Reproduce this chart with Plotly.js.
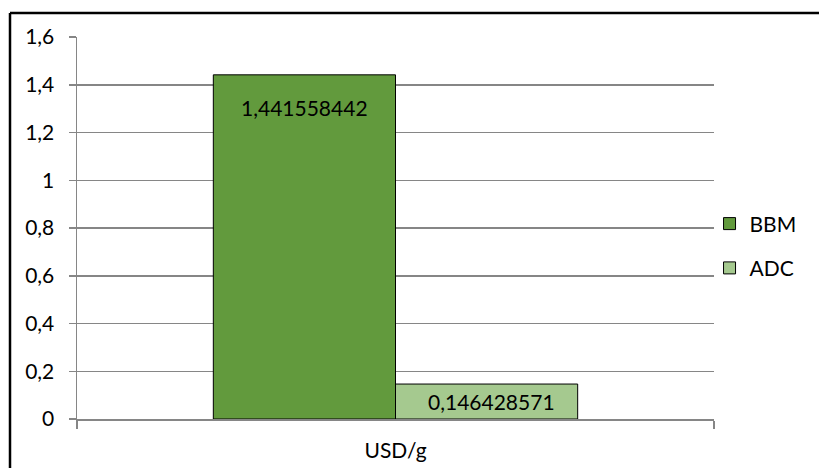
<!DOCTYPE html>
<html>
<head>
<meta charset="utf-8">
<script src="https://cdn.plot.ly/plotly-3.0.1.min.js"></script>
<style>
  html, body { margin: 0; padding: 0; background: #fff; overflow: hidden; }
  #chart { width: 819px; height: 468px; }
</style>
</head>
<body>
<div id="chart"></div>
<script>
const categories = ["USD/g"];
const seriesNames = ["BBM", "ADC"];
const bbmValues = [1.441558442];
const adcValues = [0.146428571];
const labelBBM = ["1,441558442"];
const labelADC = ["0,146428571"];

const FONT = "Lato, 'Noto Sans', sans-serif";
const W = 819, H = 468;
const margin = { l: 77, r: 105, t: 37, b: 49 };
const bargap = 0.428;
const yMax = 1.6;
const plotW = W - margin.l - margin.r;
const plotH = H - margin.t - margin.b;
const barPx = plotW * (1 - bargap) / 2;

const traces = [
  { type: "bar", name: seriesNames[0], x: categories, y: bbmValues, legendgroup: "a",
    marker: { color: "#629A3D", line: { color: "#000", width: 1 } }, hoverinfo: "none" },
  { type: "bar", name: seriesNames[1], x: categories, y: adcValues, legendgroup: "b",
    marker: { color: "#A5C98F", line: { color: "#000", width: 1 } }, hoverinfo: "none" }
];

function labelAnn(val, txt, sign, dx) {
  const hPx = val / yMax * plotH;
  return {
    xref: "x", yref: "y", x: categories[0], y: val,
    xshift: sign * barPx / 2 + dx,
    yshift: -Math.min(33, hPx / 2),
    text: txt, showarrow: false, yanchor: "middle",
    font: { family: FONT, size: 21, color: "#000" }
  };
}

// outer frame: only the top and left edges are in the picture
const fx0 = (10 - margin.l) / plotW;
const fy1 = (H - margin.b - 13) / plotH;

const layout = {
  width: W, height: H,
  margin: margin,
  paper_bgcolor: "#fff", plot_bgcolor: "#fff",
  barmode: "group", bargap: bargap, bargroupgap: 0,
  separators: ",.",
  font: { family: FONT, size: 21, color: "#000" },
  xaxis: {
    type: "category", tickson: "boundaries", ticks: "outside", ticklen: 8,
    tickcolor: "#868686", tickwidth: 1.5,
    showline: true, linecolor: "#868686", linewidth: 1.5,
    showgrid: false, zeroline: false,
    tickfont: { family: FONT, size: 21, color: "#000" },
    ticklabelstandoff: 12
  },
  yaxis: {
    range: [0, yMax], dtick: 0.2, tick0: 0,
    ticks: "outside", ticklen: 7, tickcolor: "#868686", tickwidth: 1.5,
    showline: true, linecolor: "#868686", linewidth: 1.5,
    showgrid: true, gridcolor: "#868686", gridwidth: 1.5,
    zeroline: false,
    tickfont: { family: FONT, size: 21, color: "#000" },
    ticklabelstandoff: 10
  },
  legend: {
    x: 0.993, xanchor: "left", y: 0.453, yanchor: "middle",
    font: { family: FONT, size: 21, color: "#000" },
    tracegroupgap: 14, itemwidth: 30,
    traceorder: "grouped", bgcolor: "rgba(0,0,0,0)"
  },
  showlegend: true,
  shapes: [
    { type: "line", xref: "paper", yref: "paper", x0: fx0, x1: 1.5, y0: fy1, y1: fy1,
      line: { color: "#000", width: 2.5 }, layer: "above" },
    { type: "line", xref: "paper", yref: "paper", x0: fx0, x1: fx0, y0: -0.5, y1: fy1,
      line: { color: "#000", width: 2.5 }, layer: "above" }
  ],
  annotations: [
    labelAnn(bbmValues[0], labelBBM[0], -1, 0),
    labelAnn(adcValues[0], labelADC[0], 1, 5)
  ]
};

Plotly.newPlot("chart", traces, layout, { staticPlot: true, displayModeBar: false });
</script>
</body>
</html>
